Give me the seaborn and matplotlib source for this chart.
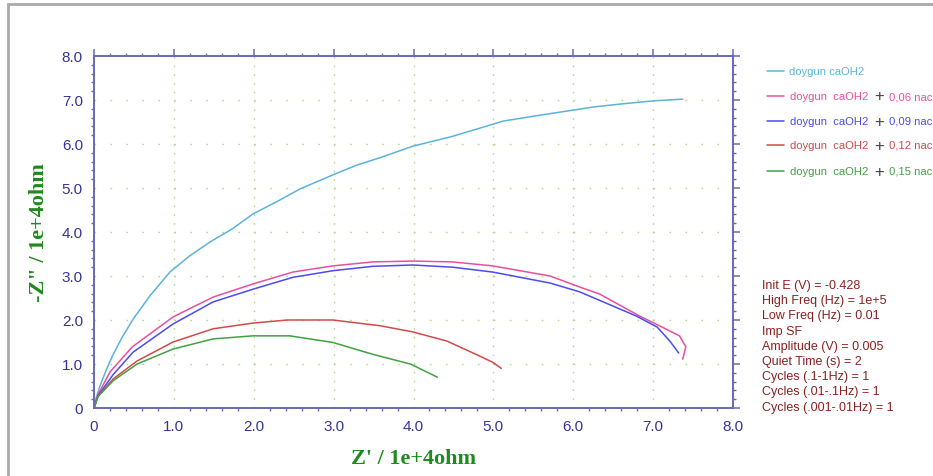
import matplotlib
matplotlib.use("Agg")
import matplotlib.pyplot as plt
import seaborn as sns
import pandas as pd
import numpy as np
from matplotlib.ticker import MultipleLocator, FixedLocator
from matplotlib.lines import Line2D

# ---- data (Z' and -Z'' in units of 1e+4 ohm) ----
series_names = ["doygun caOH2", "doygun caOH2 + 0,06 nac", "doygun caOH2 + 0,09 nac",
                "doygun caOH2 + 0,12 nac", "doygun caOH2 + 0,15 nac"]
series_colors = ["#5ab4d9", "#ea4f9c", "#4b4bef", "#d24a4a", "#42a142"]

cyan_x = [0, 0.03, 0.075, 0.15, 0.23, 0.35, 0.49, 0.70, 0.95, 1.2, 1.45, 1.73, 1.99, 2.3, 2.58,
          3.02, 3.29, 3.6, 3.99, 4.46, 4.83, 5.12, 5.6, 6.0, 6.25, 6.6, 7.0, 7.37]
cyan_y = [0, 0.25, 0.5, 0.85, 1.18, 1.6, 2.02, 2.55, 3.09, 3.46, 3.77, 4.07, 4.41, 4.7, 4.98,
          5.32, 5.52, 5.7, 5.95, 6.16, 6.36, 6.52, 6.66, 6.77, 6.84, 6.91, 6.98, 7.02]

pink_x = [0, 0.05, 0.2, 0.48, 0.99, 1.49, 1.99, 2.49, 2.99, 3.49, 3.99, 4.49, 4.99, 5.71,
          6.08, 6.33, 6.83, 7.1, 7.33, 7.41, 7.37]
pink_y = [0, 0.3, 0.82, 1.39, 2.07, 2.52, 2.82, 3.09, 3.23, 3.32, 3.34, 3.32, 3.23, 3.0,
          2.75, 2.59, 2.09, 1.85, 1.64, 1.39, 1.11]

blue_x = [0, 0.05, 0.24, 0.49, 0.99, 1.49, 1.99, 2.49, 2.99, 3.49, 3.99, 4.49, 4.99, 5.71,
          6.08, 6.79, 7.05, 7.21, 7.32]
blue_y = [0, 0.28, 0.76, 1.27, 1.91, 2.41, 2.7, 2.97, 3.12, 3.22, 3.25, 3.2, 3.09, 2.84,
          2.64, 2.09, 1.84, 1.52, 1.25]

red_x = [0, 0.05, 0.24, 0.54, 0.99, 1.49, 1.99, 2.42, 2.99, 3.58, 3.99, 4.42, 4.83, 4.99, 5.1]
red_y = [0, 0.27, 0.66, 1.07, 1.5, 1.8, 1.93, 2.0, 2.0, 1.87, 1.73, 1.52, 1.18, 1.04, 0.9]

green_x = [0, 0.05, 0.24, 0.54, 0.99, 1.49, 1.99, 2.45, 2.99, 3.49, 3.96, 4.3]
green_y = [0, 0.26, 0.62, 1.0, 1.34, 1.57, 1.64, 1.64, 1.49, 1.22, 1.0, 0.7]

tick_values = [0, 1, 2, 3, 4, 5, 6, 7, 8]
tick_labels = ["0", "1.0", "2.0", "3.0", "4.0", "5.0", "6.0", "7.0", "8.0"]

info_lines = ["Init E (V) = -0.428", "High Freq (Hz) = 1e+5", "Low Freq (Hz) = 0.01", "Imp SF",
              "Amplitude (V) = 0.005", "Quiet Time (s) = 2", "Cycles (.1-1Hz) = 1",
              "Cycles (.01-.1Hz) = 1", "Cycles (.001-.01Hz) = 1"]

xs = [cyan_x, pink_x, blue_x, red_x, green_x]
ys = [cyan_y, pink_y, blue_y, red_y, green_y]
frames = []
for name, x, y in zip(series_names, xs, ys):
    frames.append(pd.DataFrame({"Zre": x, "Zim": y, "series": name}))
df = pd.concat(frames, ignore_index=True)

# ---- figure ----
sns.set_theme(style="white")
plt.rcParams['font.family'] = ['Liberation Sans', 'DejaVu Sans']
fig = plt.figure(figsize=(9.33, 4.77), dpi=100)
ax = fig.add_axes([94/933, (477-409)/477, (733-94)/933, (409-57)/477])

sns.lineplot(data=df, x="Zre", y="Zim", hue="series", palette=dict(zip(series_names, series_colors)),
             sort=False, estimator=None, legend=False, linewidth=1.1, ax=ax)

ax.set_xlim(0, 8)
ax.set_ylim(0, 8)
axis_col = "#6868b8"
lab_col = "#34349a"
for sp in ax.spines.values():
    sp.set_visible(True)
    sp.set_color(axis_col)
    sp.set_linewidth(1.4)

ax.xaxis.set_major_locator(FixedLocator(tick_values))
ax.yaxis.set_major_locator(FixedLocator(tick_values))
ax.set_xticklabels(tick_labels)
ax.set_yticklabels(tick_labels)
ax.xaxis.set_minor_locator(MultipleLocator(0.2))
ax.yaxis.set_minor_locator(MultipleLocator(0.2))
ax.tick_params(which="major", direction="out", length=5, width=1.1, color=axis_col,
               top=True, right=True, labelsize=11, labelcolor=lab_col, pad=3)
ax.tick_params(which="minor", direction="out", length=2.5, width=1.0, color=axis_col,
               top=True, right=True, bottom=True, left=True)

grid_col = "#b4d89a"
for v in tick_values[1:-1]:
    ax.axhline(v, color=grid_col, linewidth=1.0, linestyle=(0, (1.2, 10.3)), zorder=0)
    ax.axvline(v, color=grid_col, linewidth=1.0, linestyle=(0, (1.2, 5.1)), zorder=0)

ax.set_xlabel("Z' / 1e+4ohm", family="Liberation Serif", fontweight="bold", fontsize=16,
              color="#1f8a1f", labelpad=11)
ax.set_ylabel('-Z" / 1e+4ohm', family="Liberation Serif", fontweight="bold", fontsize=16,
              color="#1f8a1f", labelpad=9)

# ---- legend (manual) ----
leg_y = [72, 97, 122, 146, 172]
leg_fs = 8.1
for i, (name, col) in enumerate(zip(series_names, series_colors)):
    yy = 1 - leg_y[i] / 477
    fig.add_artist(Line2D([767/933, 784/933], [yy, yy], color=col, linewidth=1.1))
    if i == 0:
        fig.text(789/933, yy, "doygun caOH2", color=col, fontsize=leg_fs, va="center")
    else:
        fig.text(790/933, yy, "doygun  caOH2", color=col, fontsize=leg_fs, va="center")
        fig.text(874/933, yy, "+", color="#444444", fontsize=12, va="center")
        fig.text(889/933, yy, name.split("+ ")[1], color=col, fontsize=leg_fs, va="center")

# ---- info text ----
for i, line in enumerate(info_lines):
    fig.text(762/933, 1 - (286 + i*15.2)/477, line, color="#8b2020", fontsize=9, va="center")

# ---- outer frame ----
fig.add_artist(Line2D([8/933, 8/933], [0, 1 - 5/477], color="#aaaaaa", linewidth=2))
fig.add_artist(Line2D([8/933, 1], [1 - 5/477, 1 - 5/477], color="#aaaaaa", linewidth=2))

fig.savefig("out.png", dpi=100)
